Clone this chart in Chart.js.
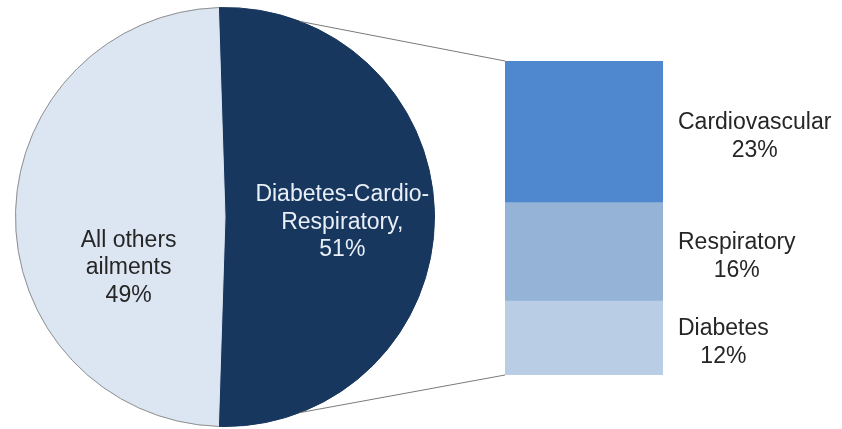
<!DOCTYPE html>
<html>
<head>
<meta charset="utf-8">
<script src="https://cdn.jsdelivr.net/npm/chart.js@4.4.0/dist/chart.umd.min.js"></script>
<style>
  html, body { margin: 0; padding: 0; background: #ffffff; }
  #wrap { position: relative; width: 842px; height: 429px; }
  #wrap canvas { position: absolute; left: 0; top: 0; }
</style>
</head>
<body>
<div id="wrap">
  <canvas id="pie" width="842" height="429"></canvas>
  <canvas id="bar" width="842" height="429"></canvas>
</div>
<script>
// ---- data ----
const pieCategories = ['Diabetes-Cardio-Respiratory', 'All others ailments'];
const pieLabelLines = [['Diabetes-Cardio-', 'Respiratory,'], ['All others', 'ailments']];
const pieValues = [51, 49];
const barCategories = ['Diabetes', 'Respiratory', 'Cardiovascular']; // bottom to top
const barValues = [12, 16, 23];

// ---- styles ----
const FONT = '"Liberation Sans", Arial, sans-serif';
const FONT_SIZE = 23;
const pieColors = ['#17375E', '#DCE6F2'];
const pieTextColors = ['#E9EFF7', '#262626'];
const pieLabelPos = [[0.56, 0.025], [-0.46, 0.243]]; // fractions of radius
const barColors = ['#B9CDE5', '#95B3D7', '#5088D0'];
const connectorAngleDeg = 69;

const pieTotal = pieValues.reduce((a, b) => a + b, 0);
const barTotal = barValues.reduce((a, b) => a + b, 0);

function drawLines(ctx, lines, cx, cy, lh, color, blockLeft) {
  ctx.save();
  ctx.font = FONT_SIZE + 'px ' + FONT;
  ctx.fillStyle = color;
  ctx.textBaseline = 'middle';
  ctx.textAlign = 'center';
  let x = cx;
  if (blockLeft !== undefined) {
    const maxW = Math.max(...lines.map(l => ctx.measureText(l).width));
    x = blockLeft + maxW / 2;
  }
  const y0 = cy - (lines.length - 1) * lh / 2;
  lines.forEach((l, i) => ctx.fillText(l, x, y0 + i * lh));
  ctx.restore();
}

const pieLabelPlugin = {
  id: 'pieLabels',
  afterDatasetsDraw(chart) {
    const ctx = chart.ctx;
    const meta = chart.getDatasetMeta(0);
    // outline of the light slice
    const light = meta.data[1];
    ctx.save();
    ctx.strokeStyle = '#8f8f8f';
    ctx.lineWidth = 1;
    ctx.beginPath();
    ctx.arc(light.x, light.y, light.outerRadius, light.startAngle, light.endAngle);
    ctx.stroke();
    ctx.restore();
    meta.data.forEach((arc, i) => {
      const R = arc.outerRadius;
      const cx = arc.x + pieLabelPos[i][0] * R;
      const cy = arc.y + pieLabelPos[i][1] * R;
      drawLines(ctx, pieLabelLines[i].concat([pieValues[i] + '%']), cx, cy, 27.5, pieTextColors[i]);
    });
  }
};

const pieChart = new Chart(document.getElementById('pie'), {
  type: 'pie',
  data: {
    labels: pieCategories,
    datasets: [{
      data: pieValues,
      backgroundColor: pieColors,
      borderColor: pieColors,
      borderWidth: 1
    }]
  },
  options: {
    responsive: false,
    animation: false,
    rotation: 90 - (pieValues[0] / pieTotal * 360) / 2,
    layout: { padding: { left: 14, right: 406, top: 7, bottom: 2 } },
    plugins: { legend: { display: false }, tooltip: { enabled: false } }
  },
  plugins: [pieLabelPlugin]
});

const barOverlayPlugin = {
  id: 'barOverlay',
  afterDatasetsDraw(chart) {
    const ctx = chart.ctx;
    const n = chart.data.datasets.length;
    const bottomEl = chart.getDatasetMeta(0).data[0];
    const topEl = chart.getDatasetMeta(n - 1).data[0];
    const left = bottomEl.x - bottomEl.width / 2;
    const right = bottomEl.x + bottomEl.width / 2;
    const top = topEl.y;
    const bottom = bottomEl.base;

    // connector lines from the pie
    const arc = pieChart.getDatasetMeta(0).data[0];
    const a = connectorAngleDeg * Math.PI / 180;
    const R = arc.outerRadius;
    ctx.save();
    ctx.strokeStyle = '#7a7a7a';
    ctx.lineWidth = 1;
    ctx.beginPath();
    ctx.moveTo(arc.x + R * Math.cos(-a), arc.y + R * Math.sin(-a));
    ctx.lineTo(left, top);
    ctx.moveTo(arc.x + R * Math.cos(a), arc.y + R * Math.sin(a));
    ctx.lineTo(left, bottom);
    ctx.stroke();
    ctx.restore();

    // segment labels
    for (let i = 0; i < n; i++) {
      const el = chart.getDatasetMeta(i).data[0];
      const cy = (el.y + el.base) / 2 + 5;
      drawLines(ctx, [barCategories[i], barValues[i] + '%'], 0, cy, 28, '#262626', right + 15);
    }
  }
};

new Chart(document.getElementById('bar'), {
  type: 'bar',
  data: {
    labels: [''],
    datasets: barCategories.map((c, i) => ({
      label: c,
      data: [barValues[i]],
      backgroundColor: barColors[i],
      borderWidth: 0,
      categoryPercentage: 1,
      barPercentage: 1
    }))
  },
  options: {
    responsive: false,
    animation: false,
    layout: { padding: { left: 505, right: 179, top: 61, bottom: 54 } },
    scales: {
      x: { stacked: true, display: false },
      y: { stacked: true, display: false, min: 0, max: barTotal }
    },
    plugins: { legend: { display: false }, tooltip: { enabled: false } }
  },
  plugins: [barOverlayPlugin]
});
</script>
</body>
</html>
